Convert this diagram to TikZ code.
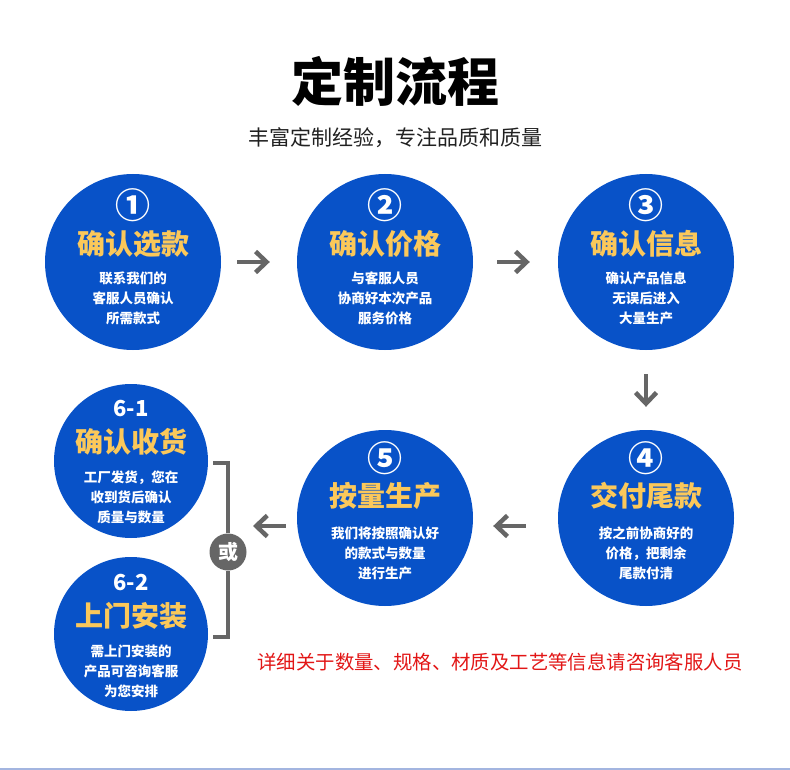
\documentclass[tikz,border=0pt]{standalone}
\usepackage{fontspec}
\setmainfont{Noto Sans CJK SC}
\usepackage{xcolor}
\usepackage{tikz}
\usetikzlibrary{positioning, arrows.meta}

\definecolor{stepblue}{RGB}{8,82,200}
\definecolor{stepgold}{RGB}{251,200,90}
\definecolor{flowgray}{RGB}{102,102,102}
\definecolor{notered}{RGB}{226,22,22}
\definecolor{lineblue}{RGB}{163,181,224}

\begin{document}
\begin{tikzpicture}[x=1pt,y=1pt,node distance=252pt,
    stepnode/.style={circle,fill=stepblue,minimum size=176pt,inner sep=0pt},
    substep/.style={stepnode,minimum size=154pt},
    numtxt/.style={white,font=\bfseries\fontsize{35}{35}\selectfont},
    subnum/.style={white,font=\bfseries\fontsize{22}{22}\selectfont},
    titletxt/.style={text=stepgold,font=\bfseries\fontsize{28}{28}\selectfont},
    desctxt/.style={white,align=center,font=\bfseries\fontsize{13.5}{20}\selectfont},
    orbox/.style={circle,fill=flowgray,minimum size=37pt,inner sep=0pt,text=white,font=\bfseries\fontsize{20}{20}\selectfont},
    flow/.style={draw=flowgray,line width=4.5pt,-{Straight Barb[length=11pt,width=21pt]}},
    bracket/.style={draw=flowgray,line width=4pt}]
    \useasboundingbox (0,0) rectangle (790,-770);

    % heading
    \node[font=\bfseries\fontsize{52}{52}\selectfont] (title) at (395,-81) {定制流程};
    \node[text=black!87,font=\fontsize{21}{21}\selectfont] (subtitle) [below of=title, node distance=57pt] {丰富定制经验，专注品质和质量};

    % steps
    \node[stepnode] (c1) at (133,-262) {};
    \node[stepnode] (c2) [right of=c1] {};
    \node[stepnode] (c3) [right of=c2, node distance=261pt] {};
    \node[stepnode] (c4) [below of=c3, node distance=256pt] {};
    \node[stepnode] (c5) [left of=c4, node distance=261pt] {};
    \node[substep] (c61) at (131,-461) {};
    \node[substep] (c62) [below of=c61, node distance=173pt] {};

    \node[numtxt] (n1) at ([yshift=57pt]c1.center) {①};
    \node[titletxt] (t1) at ([yshift=18pt]c1.center) {确认选款};
    \node[desctxt] (d1) at ([yshift=-36pt]c1.center) {联系我们的\\客服人员确认\\所需款式};

    \node[numtxt] (n2) at ([yshift=57pt]c2.center) {②};
    \node[titletxt] (t2) at ([yshift=18pt]c2.center) {确认价格};
    \node[desctxt] (d2) at ([yshift=-36pt]c2.center) {与客服人员\\协商好本次产品\\服务价格};

    \node[numtxt] (n3) at ([yshift=57pt]c3.center) {③};
    \node[titletxt] (t3) at ([yshift=18pt]c3.center) {确认信息};
    \node[desctxt] (d3) at ([yshift=-36pt]c3.center) {确认产品信息\\无误后进入\\大量生产};

    \node[numtxt] (n4) at ([yshift=60pt]c4.center) {④};
    \node[titletxt] (t4) at ([yshift=22pt]c4.center) {交付尾款};
    \node[desctxt] (d4) at ([yshift=-35pt]c4.center) {按之前协商好的\\价格，把剩余\\尾款付清};

    \node[numtxt] (n5) at ([yshift=60pt]c5.center) {⑤};
    \node[titletxt] (t5) at ([yshift=22pt]c5.center) {按量生产};
    \node[desctxt] (d5) at ([yshift=-35pt]c5.center) {我们将按照确认好\\的款式与数量\\进行生产};

    \node[subnum] (n61) at ([yshift=52pt]c61.center) {6-1};
    \node[titletxt] (t61) at ([yshift=19pt]c61.center) {确认收货};
    \node[desctxt] (d61) at ([yshift=-36pt]c61.center) {工厂发货，您在\\收到货后确认\\质量与数量};

    \node[subnum] (n62) at ([yshift=51pt]c62.center) {6-2};
    \node[titletxt] (t62) at ([yshift=18pt]c62.center) {上门安装};
    \node[desctxt] (d62) at ([yshift=-37pt]c62.center) {需上门安装的\\产品可咨询客服\\为您安排};

    % or bracket
    \node[orbox] (or) at (228,-552) {或};
    \draw[bracket] (or) |- ([xshift=5pt,yshift=-2pt]c61.east);
    \draw[bracket] (or) |- ([xshift=5pt,yshift=-3pt]c62.east);

    % arrows
    \draw[flow,shorten <=16pt,shorten >=27pt] (c1) -- (c2);
    \draw[flow,shorten <=24pt,shorten >=28pt] (c2) -- (c3);
    \draw[flow,shorten <=24pt,shorten >=23pt] (c3) -- (c4);
    \draw[flow,shorten <=32pt,shorten >=20pt] ([yshift=-8pt]c4.west) -- ([yshift=-8pt]c5.east);
    \draw[flow,shorten <=11pt,shorten >=25pt] ([yshift=-8pt]c5.west) -- ([yshift=-8pt]c5.west -| or);

    \node[text=notered,font=\fontsize{19.4}{19.4}\selectfont] (note) at (500,-662) {详细关于数量、规格、材质及工艺等信息请咨询客服人员};

    \draw[lineblue,line width=2pt] (0,-769) -- (790,-769);
\end{tikzpicture}
\end{document}
